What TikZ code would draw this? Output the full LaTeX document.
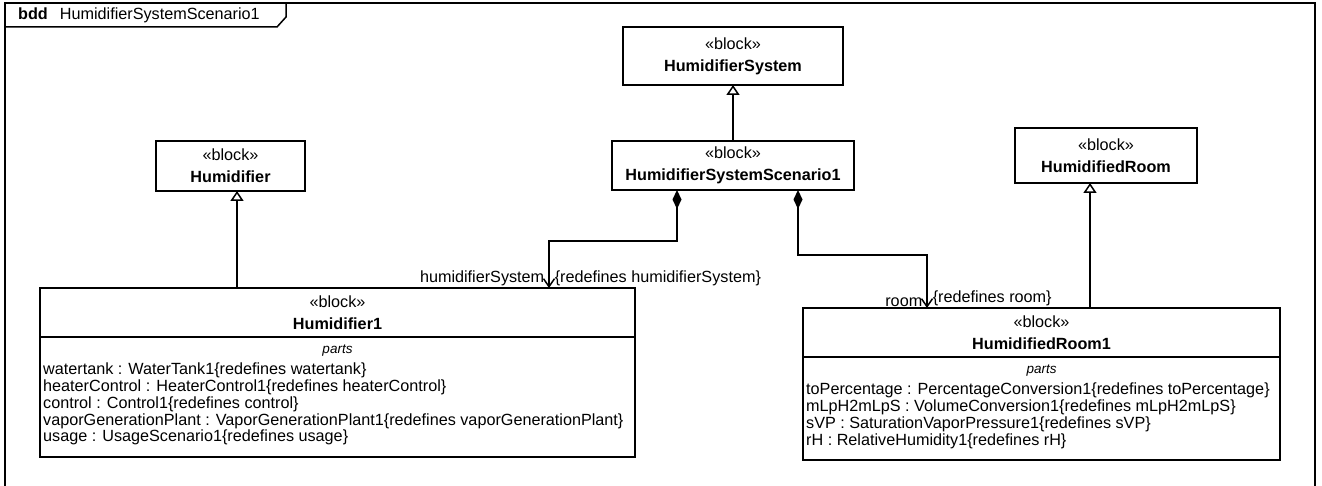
\documentclass[tikz,border=0pt]{standalone}
\usepackage{fontspec}
\setmainfont{Liberation Sans}
\usetikzlibrary{arrows.meta, positioning}

\begin{document}
\begin{tikzpicture}[
    x=1pt, y=-1pt,
    every node/.style={font=\fontsize{16.2}{22}\selectfont},
    block/.style={rectangle, draw, line width=1.5pt, fill=white, align=center, inner sep=0pt, outer sep=0pt},
    partstitle/.style={inner sep=0pt, font=\fontsize{13.5}{16}\selectfont\itshape},
    partlist/.style={align=left, inner sep=0pt, font=\fontsize{16.2}{16.75}\selectfont},
    gen/.style={line width=1.5pt, -{Triangle[open, length=10pt, width=13pt]}},
    comp/.style={line width=1.5pt, {Diamond[length=19pt, width=9pt]}-{Straight Barb[length=8pt, width=11pt]}},
    role/.style={inner sep=1pt}
  ]
  \useasboundingbox (0,0) rectangle (1322,486);

  % Frame
  \node[draw, line width=1.5pt, minimum width=1310, minimum height=487, inner sep=0pt, outer sep=0pt] (frame) at (660,246.5) {};
  \draw[line width=1.5pt] (frame.north west) ++(0,24) -- ++(272,0) -- ++(9,-10) |- (frame.north west);
  \node[anchor=west, inner sep=0pt] (frametitle) at (18,15) {\textbf{bdd}\hspace{12pt}HumidifierSystemScenario1};

  % Blocks
  \node[block, minimum width=220, minimum height=58] (hsys) at (733,56) {«block»\\\textbf{HumidifierSystem}};
  \node[block, minimum width=242, minimum height=49] (hscen) at (733,165.5) {«block»\\\textbf{HumidifierSystemScenario1}};
  \node[block, minimum width=149, minimum height=50] (humid) at (230.5,166) {«block»\\\textbf{Humidifier}};
  \node[block, minimum width=182, minimum height=55] (hroom) at (1106,155.5) {«block»\\\textbf{HumidifiedRoom}};

  \node[block, minimum width=595, minimum height=49] (hum1) at (337.5,312.5) {«block»\\\textbf{Humidifier1}};
  \node[block, minimum width=595, minimum height=120, below=0pt of hum1] (hum1body) {};
  \node[partstitle, below=8pt of hum1body.north] (hum1parts) {parts};
  \node[partlist, below right=26pt and 3pt of hum1body.north west] (hum1list) {%
    watertank : WaterTank1\{redefines watertank\}\\
    heaterControl : HeaterControl1\{redefines heaterControl\}\\
    control : Control1\{redefines control\}\\
    vaporGenerationPlant : VaporGenerationPlant1\{redefines vaporGenerationPlant\}\\
    usage : UsageScenario1\{redefines usage\}};

  \node[block, minimum width=477, minimum height=49] (room1) at (1041.5,332.5) {«block»\\\textbf{HumidifiedRoom1}};
  \node[block, minimum width=477, minimum height=103, below=0pt of room1] (room1body) {};
  \node[partstitle, below=8pt of room1body.north] (room1parts) {parts};
  \node[partlist, below right=26pt and 3pt of room1body.north west] (room1list) {%
    toPercentage : PercentageConversion1\{redefines toPercentage\}\\
    mLpH2mLpS : VolumeConversion1\{redefines mLpH2mLpS\}\\
    sVP : SaturationVaporPressure1\{redefines sVP\}\\
    rH : RelativeHumidity1\{redefines rH\}};

  % Generalizations
  \draw[gen] (hscen.north) -- (hsys.south);
  \draw[gen] ([xshift=6.5pt]humid.south |- hum1.north) -- ([xshift=6.5pt]humid.south);
  \draw[gen] ([xshift=-16pt]hroom.south |- room1.north) -- ([xshift=-16pt]hroom.south);

  % Compositions
  \draw[comp] ([xshift=-56pt]hscen.south) -- ++(0,51) -| ([xshift=211.5pt]hum1.north)
    node[role, anchor=south east, xshift=-3pt] (hsysrole) {humidifierSystem}
    node[role, anchor=south west, xshift=4pt] (hsysredef) {\{redefines humidifierSystem\}};
  \draw[comp] ([xshift=65pt]hscen.south) -- ++(0,65) -| ([xshift=-114.5pt]room1.north)
    node[role, anchor=south east, xshift=-3pt] (roomrole) {room}
    node[role, anchor=south west, xshift=4pt] (roomredef) {\{redefines room\}};

\end{tikzpicture}
\end{document}
